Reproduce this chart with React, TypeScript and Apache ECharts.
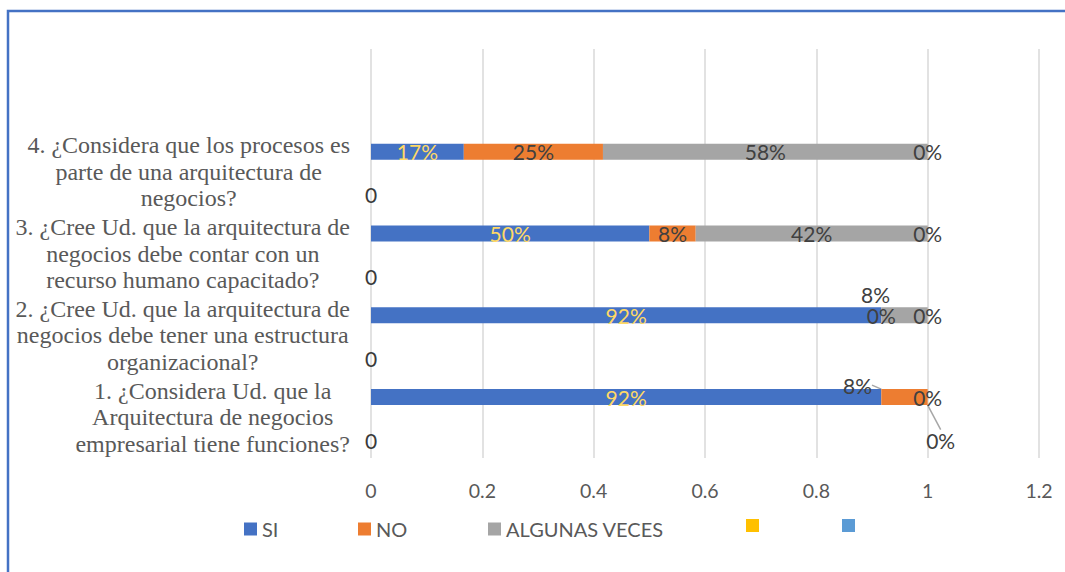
import React, { useEffect, useRef } from 'react';
import * as echarts from 'echarts';

// ---- data ----
const categories = [
  '1. ¿Considera Ud. que la\nArquitectura de negocios\nempresarial tiene funciones?',
  '2. ¿Cree Ud. que la arquitectura de\nnegocios debe tener una estructura\norganizacional?',
  '3. ¿Cree Ud. que la arquitectura de\nnegocios debe contar con un\nrecurso humano capacitado?',
  '4. ¿Considera que los procesos es\nparte de una arquitectura de\nnegocios?',
  '',
];
const seriesNames = ['SI', 'NO', 'ALGUNAS VECES', 'Serie4', 'Serie5'];
const siValues = [0.9167, 0.9167, 0.5, 0.1667, null];
const noValues = [0.0833, 0, 0.0833, 0.25, null];
const algunasValues = [0, 0.0833, 0.4167, 0.5833, null];
const serie4Values = [0, 0, 0, 0, null];
const serie5Values = [0, 0, 0, 0, null];
const xMin = 0;
const xMax = 1.2;
const xInterval = 0.2;

// ---- styling ----
const colors = ['#4472C4', '#ED7D31', '#A5A5A5', '#FFC000', '#5B9BD5'];
const sansFont = 'Lato';
const serifFont = 'Liberation Serif';
const dark = '#404040';
const gray = '#595959';

const pct = (p: any) => (p.value == null ? '' : Math.round(p.value * 100) + '%');

export default function App() {
  const ref = useRef<HTMLDivElement>(null);

  useEffect(() => {
    if (!ref.current) return;
    const chart = echarts.init(ref.current, null, { renderer: 'svg' });

    const labelBase = {
      show: true,
      position: 'inside',
      fontFamily: sansFont,
      fontSize: 21,
      lineHeight: 18,
      color: dark,
      formatter: pct,
    };
    const labelLineBase = { show: false, lineStyle: { color: '#A6A6A6', width: 1.5 } };
    const barBase = { type: 'bar', barWidth: 16, barGap: '150%' };

    const legendBase = {
      top: 514,
      itemWidth: 13,
      itemHeight: 13,
      icon: 'rect',
      itemGap: 0,
      textStyle: { fontFamily: sansFont, fontSize: 20, color: gray },
    };

    const option: any = {
      animation: false,
      color: colors,
      graphic: [
        {
          type: 'polyline',
          shape: { points: [[8, 572], [8, 11], [1065, 11]] },
          style: { stroke: '#4472C4', lineWidth: 2.5, fill: null },
          silent: true,
        },
      ],
      grid: { left: 371, right: 26, top: 49, bottom: 114 },
      xAxis: {
        type: 'value',
        min: xMin,
        max: xMax,
        interval: xInterval,
        axisLine: { show: false },
        axisTick: { show: false },
        splitLine: { show: true, lineStyle: { color: '#D9D9D9', width: 1.5 } },
        axisLabel: { fontFamily: sansFont, fontSize: 19.5, color: gray, margin: 22 },
      },
      yAxis: {
        type: 'category',
        data: categories,
        axisLine: { show: false },
        axisTick: { show: false },
        splitLine: { show: false },
        axisLabel: {
          margin: 21,
          align: 'right',
          formatter: (v: string) =>
            v ? v.split('\n').map((l) => `{c|${l}}`).join('\n') : '',
          rich: {
            c: {
              align: 'center',
              fontFamily: serifFont,
              fontSize: 24,
              lineHeight: 26.5,
              color: gray,
            },
          },
        },
      },
      legend: [
        { ...legendBase, left: 239, data: ['SI'] },
        { ...legendBase, left: 353, data: ['NO'] },
        { ...legendBase, left: 483, data: ['ALGUNAS VECES'] },
        { ...legendBase, left: 741, data: ['Serie4'], formatter: () => '' },
        { ...legendBase, left: 837, data: ['Serie5'], formatter: () => '' },
      ],
      series: [
        {
          ...barBase,
          name: seriesNames[0],
          stack: 'a',
          data: siValues,
          label: { ...labelBase, color: '#FFD966' },
        },
        {
          ...barBase,
          name: seriesNames[1],
          stack: 'a',
          data: noValues.map((v, i) => (i === 0 ? { value: v, labelLine: { show: true } } : v)),
          label: labelBase,
          labelLine: labelLineBase,
          labelLayout: (p: any) => (p.dataIndex === 0 ? { dx: -47, dy: -12 } : {}),
        },
        {
          ...barBase,
          name: seriesNames[2],
          stack: 'a',
          data: algunasValues,
          label: labelBase,
          labelLayout: (p: any) => (p.dataIndex === 1 ? { dx: -29, dy: -21 } : {}),
        },
        {
          ...barBase,
          name: seriesNames[3],
          stack: 'a',
          data: serie4Values.map((v, i) => (i === 0 ? { value: v, labelLine: { show: true } } : v)),
          label: labelBase,
          labelLine: labelLineBase,
          labelLayout: (p: any) => (p.dataIndex === 0 ? { dx: 13, dy: 43 } : {}),
        },
        {
          ...barBase,
          name: seriesNames[4],
          stack: 'b',
          data: serie5Values,
          label: {
            ...labelBase,
            color: '#3A3A3A',
            offset: [0, 3],
            formatter: (p: any) => (p.value == null ? '' : String(p.value)),
          },
        },
      ],
    };

    chart.setOption(option);
    return () => chart.dispose();
  }, []);

  return (
    <div
      ref={ref}
      style={{ position: 'absolute', left: 0, top: 0, width: 1065, height: 572, background: '#fff' }}
    />
  );
}
